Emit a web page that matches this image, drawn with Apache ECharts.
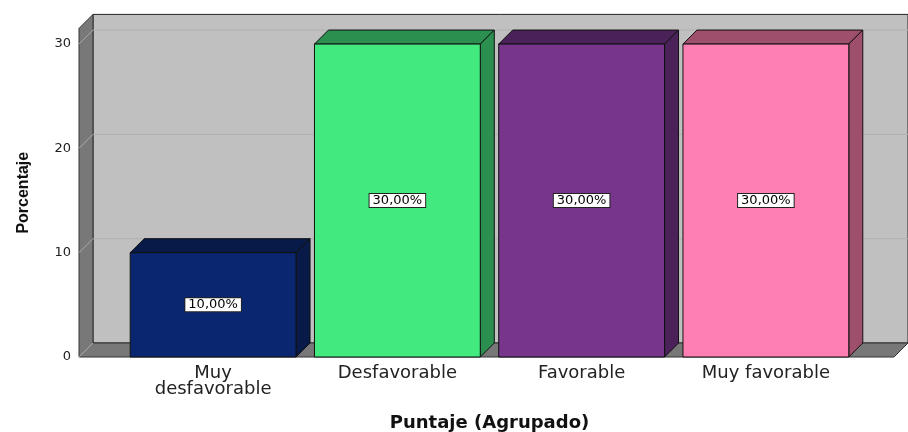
<!DOCTYPE html>
<html>
<head>
<meta charset="utf-8">
<script src="https://cdn.jsdelivr.net/npm/echarts@6/dist/echarts.min.js"></script>
<style>html,body{margin:0;padding:0;background:#fff}#c{width:908px;height:432px}</style>
</head>
<body>
<div id="c"></div>
<script>
var categories = ['Muy desfavorable', 'Desfavorable', 'Favorable', 'Muy favorable'];
var percentages = [10, 30, 30, 30];
var yTicks = [0, 10, 20, 30];

var frontColors = ['#0b2670', '#42e97f', '#77368c', '#fe7fb1'];
var sideColors  = ['#071a48', '#2a8f4f', '#4a2259', '#9d4f6b'];

var DEPTH = 14;

var chart = echarts.init(document.getElementById('c'), null, {renderer: 'canvas'});

function wallsRender(params, api) {
  var cs = params.coordSys;
  var top = cs.y, base = cs.y + cs.height;
  var L = cs.x - 42, R = cs.x + cs.width + 36;
  var D = DEPTH;
  var children = [];
  children.push({type: 'rect', shape: {x: L + D, y: top - D, width: R - L, height: base - top},
    style: {fill: '#c0c0c0', stroke: '#222', lineWidth: 1}});
  children.push({type: 'polygon', shape: {points: [[L, top], [L + D, top - D], [L + D, base - D], [L, base]]},
    style: {fill: '#787878', stroke: '#333', lineWidth: 1}});
  children.push({type: 'polygon', shape: {points: [[L, base], [L + D, base - D], [R + D, base - D], [R, base]]},
    style: {fill: '#787878', stroke: '#333', lineWidth: 1}});
  yTicks.forEach(function (v) {
    var y = api.coord([0, v])[1];
    if (v > 0) {
      children.push({type: 'line', shape: {x1: L + D, y1: y - D, x2: R + D, y2: y - D},
        style: {stroke: '#b0b0b0', lineWidth: 1}});
    }
    children.push({type: 'line', shape: {x1: L, y1: y, x2: L + D, y2: y - D},
      style: {stroke: '#aaaaaa', lineWidth: 1}});
  });
  return {type: 'group', children: children};
}

function barRender(params, api) {
  var idx = api.value(0);
  var val = api.value(1);
  var p = api.coord([idx, val]);
  var b = api.coord([idx, 0]);
  var w = api.size([1, 0])[0] * 0.9;
  var x = p[0] - w / 2, top = p[1], base = b[1];
  var D = DEPTH;
  var fc = frontColors[params.dataIndex], sc = sideColors[params.dataIndex];
  var label = val.toFixed(2).replace('.', ',') + '%';
  return {type: 'group', children: [
    {type: 'polygon', shape: {points: [[x, top], [x + D, top - D], [x + w + D, top - D], [x + w, top]]},
      style: {fill: sc, stroke: '#111', lineWidth: 1}},
    {type: 'polygon', shape: {points: [[x + w, top], [x + w + D, top - D], [x + w + D, base - D], [x + w, base]]},
      style: {fill: sc, stroke: '#111', lineWidth: 1}},
    {type: 'rect', shape: {x: x, y: top, width: w, height: base - top},
      style: {fill: fc, stroke: '#111', lineWidth: 1}},
    {type: 'text', x: p[0], y: (top + base) / 2,
      style: {text: label, fontFamily: 'DejaVu Sans', fontSize: 13, fill: '#000',
        align: 'center', verticalAlign: 'middle',
        backgroundColor: '#fff', borderColor: '#222', borderWidth: 1, padding: [0, 3, 0, 3]}}
  ]};
}

chart.setOption({
  animation: false,
  backgroundColor: '#fff',
  grid: {left: 121, right: 50, top: 28.4, bottom: 75, containLabel: false, outerBoundsMode: 'none'},
  xAxis: {
    type: 'category',
    data: categories,
    name: 'Puntaje (Agrupado)',
    nameLocation: 'middle',
    nameGap: 57,
    nameTextStyle: {fontFamily: 'DejaVu Sans', fontWeight: 'bold', fontSize: 18, color: '#111'},
    axisLine: {show: false},
    axisTick: {show: false},
    axisLabel: {
      margin: 8, fontFamily: 'DejaVu Sans', fontSize: 18, color: '#222', lineHeight: 16,
      formatter: function (v) { return v.length > 14 ? v.replace(' ', '\n') : v; }
    }
  },
  yAxis: {
    type: 'value',
    min: 0, max: 31.5, interval: 10,
    offset: 42,
    name: 'Porcentaje',
    nameLocation: 'middle',
    nameGap: 47,
    nameTextStyle: {fontFamily: 'Liberation Sans', fontWeight: 'bold', fontSize: 16, color: '#111'},
    axisLine: {show: false},
    axisTick: {show: false},
    splitLine: {show: false},
    axisLabel: {margin: 8, fontFamily: 'DejaVu Sans', fontSize: 13, color: '#222', showMaxLabel: false}
  },
  series: [
    {type: 'custom', z: 1, silent: true, renderItem: wallsRender, data: [[0, 0]], clip: false},
    {type: 'custom', z: 2, renderItem: barRender, clip: false,
      data: percentages.map(function (v, i) { return [i, v]; })}
  ]
});
</script>
</body>
</html>
